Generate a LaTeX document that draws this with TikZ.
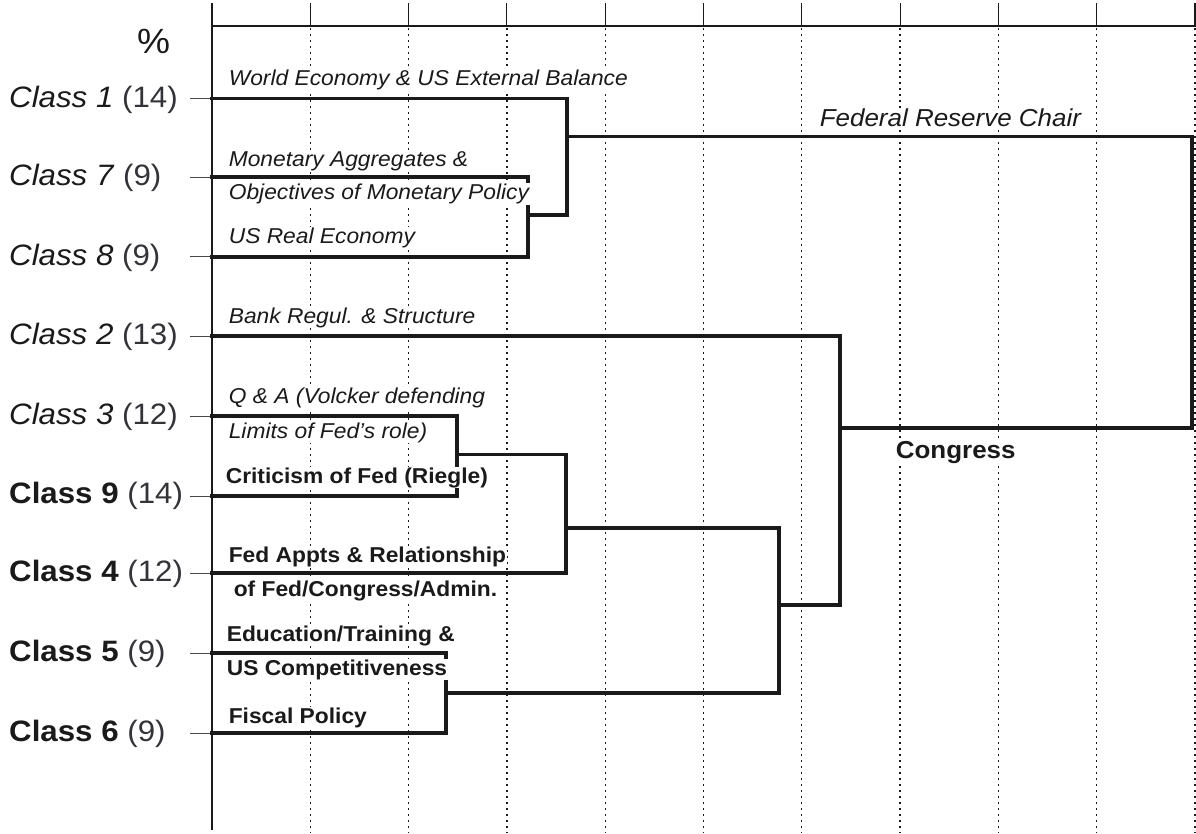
\documentclass[tikz,border=0pt]{standalone}
\usepackage{fontspec}
\setmainfont{Liberation Sans}[FakeStretch=1.06]
\definecolor{ink}{HTML}{1A1A1A}
\definecolor{lightink}{HTML}{333338}
\tikzset{
  gridline/.style={line width=1.3pt, ink, dash pattern=on 1.5pt off 4.5pt},
  axisline/.style={line width=1.1pt, ink},
  tailline/.style={line width=0.9pt, ink!80},
  branch/.style={line width=3.6pt, ink, line join=miter, line cap=rect},
  classlbl/.style={anchor=base west, inner sep=0pt, text=ink, font=\fontsize{29.5}{30}\selectfont},
  itlbl/.style={anchor=base west, inner sep=0.6pt, fill=white, text=ink, font=\fontsize{21.5}{23}\selectfont\itshape},
  bflbl/.style={anchor=base west, inner sep=0.6pt, fill=white, text=ink, font=\fontsize{21.5}{23}\selectfont\bfseries},
}
\newcommand{\cnt}[1]{{\color{lightink}#1}}
\begin{document}
\begin{tikzpicture}[x=1pt,y=-1pt]
\useasboundingbox (0,0) rectangle (1196,833);
% grid
\foreach \k in {1,...,10} {
  \draw[gridline] (212+98.3*\k,28) -- (212+98.3*\k,833);
  \draw[axisline] (212+98.3*\k,3) -- (212+98.3*\k,26);
}
\draw[axisline] (212,3) -- (212,830);
\draw[axisline] (212,26) -- (1196,26);
\node[anchor=base west, inner sep=0pt, text=ink, font=\fontsize{35}{36}\selectfont] (pct) at (137,53) {\%};
% leaf coordinates
\coordinate (c1) at (212,98.3);
\coordinate (c7) at (212,177);
\coordinate (c8) at (212,256.7);
\coordinate (c2) at (212,336);
\coordinate (c3) at (212,416);
\coordinate (c9) at (212,496);
\coordinate (c4) at (212,573);
\coordinate (c5) at (212,653);
\coordinate (c6) at (212,733);
% merge coordinates
\coordinate (m78) at (528,215);
\coordinate (m178) at (567,136.5);
\coordinate (m39) at (457,454.5);
\coordinate (m394) at (566,528);
\coordinate (m56) at (446,693);
\coordinate (m3to6) at (779,605);
\coordinate (mC) at (840,428);
\coordinate (root) at (1192,280);
% tails
\foreach \c in {c1,c7,c8,c2,c3,c9,c4,c5,c6} {
  \draw[tailline] (\c) -- ++(-22,0);
}
% class labels
\node[classlbl] (l1) at (9,107) {\textit{Class 1} \cnt{(14)}};
\node[classlbl] (l7) at (9,185.5) {\textit{Class 7} \cnt{(9)}};
\node[classlbl] (l8) at (9,265.5) {\textit{Class 8} \cnt{(9)}};
\node[classlbl] (l2) at (9,344.5) {\textit{Class 2} \cnt{(13)}};
\node[classlbl] (l3) at (9,424.5) {\textit{Class 3} \cnt{(12)}};
\node[classlbl] (l9) at (9,503.5) {\textbf{Class 9} \cnt{(14)}};
\node[classlbl] (l4) at (9,581.5) {\textbf{Class 4} \cnt{(12)}};
\node[classlbl] (l5) at (9,661.5) {\textbf{Class 5} \cnt{(9)}};
\node[classlbl] (l6) at (9,741.5) {\textbf{Class 6} \cnt{(9)}};
% dendrogram
\draw[branch] (c7) -| (m78) |- (c8);
\draw[branch] (c1) -| (m178) |- (m78);
\draw[branch] (c3) -| (m39) |- (c9);
\draw[branch] (m39) -| (m394) |- (c4);
\draw[branch] (c5) -| (m56) |- (c6);
\draw[branch] (m394) -| (m3to6) |- (m56);
\draw[branch] (c2) -| (mC) |- (m3to6);
\draw[branch] (m178) -| (root) |- (mC);
% branch labels
\node[itlbl] (t1) at (228,85) {World Economy \& US External Balance};
\node[itlbl] (t7a) at (228,166.5) {Monetary Aggregates \&};
\node[itlbl] (t7b) at (228,199.5) {Objectives of Monetary Policy};
\node[itlbl] (t8) at (228,243) {US Real Economy};
\node[itlbl] (t2) at (228,323) {Bank Regul. \& Structure};
\node[itlbl] (t3a) at (228,403) {Q \& A (Volcker defending};
\node[itlbl] (t3b) at (228,438) {Limits of Fed’s role)};
\node[bflbl] (t9) at (225,483) {Criticism of Fed (Riegle)};
\node[bflbl] (t4a) at (228,562) {Fed Appts \& Relationship};
\node[bflbl] (t4b) at (233,596) {of Fed/Congress/Admin.};
\node[bflbl] (t5a) at (226,641) {Education/Training \&};
\node[bflbl] (t5b) at (226,675) {US Competitiveness};
\node[bflbl] (t6) at (228,723) {Fiscal Policy};
\node[anchor=base west, inner sep=0.6pt, fill=white, text=ink, font=\fontsize{24.5}{26}\selectfont\itshape] (frc) at (819,126) {Federal Reserve Chair};
\node[anchor=base west, inner sep=0.6pt, fill=white, text=ink, font=\fontsize{24.5}{26}\selectfont\bfseries] (cong) at (895,458) {Congress};
\end{tikzpicture}
\end{document}
